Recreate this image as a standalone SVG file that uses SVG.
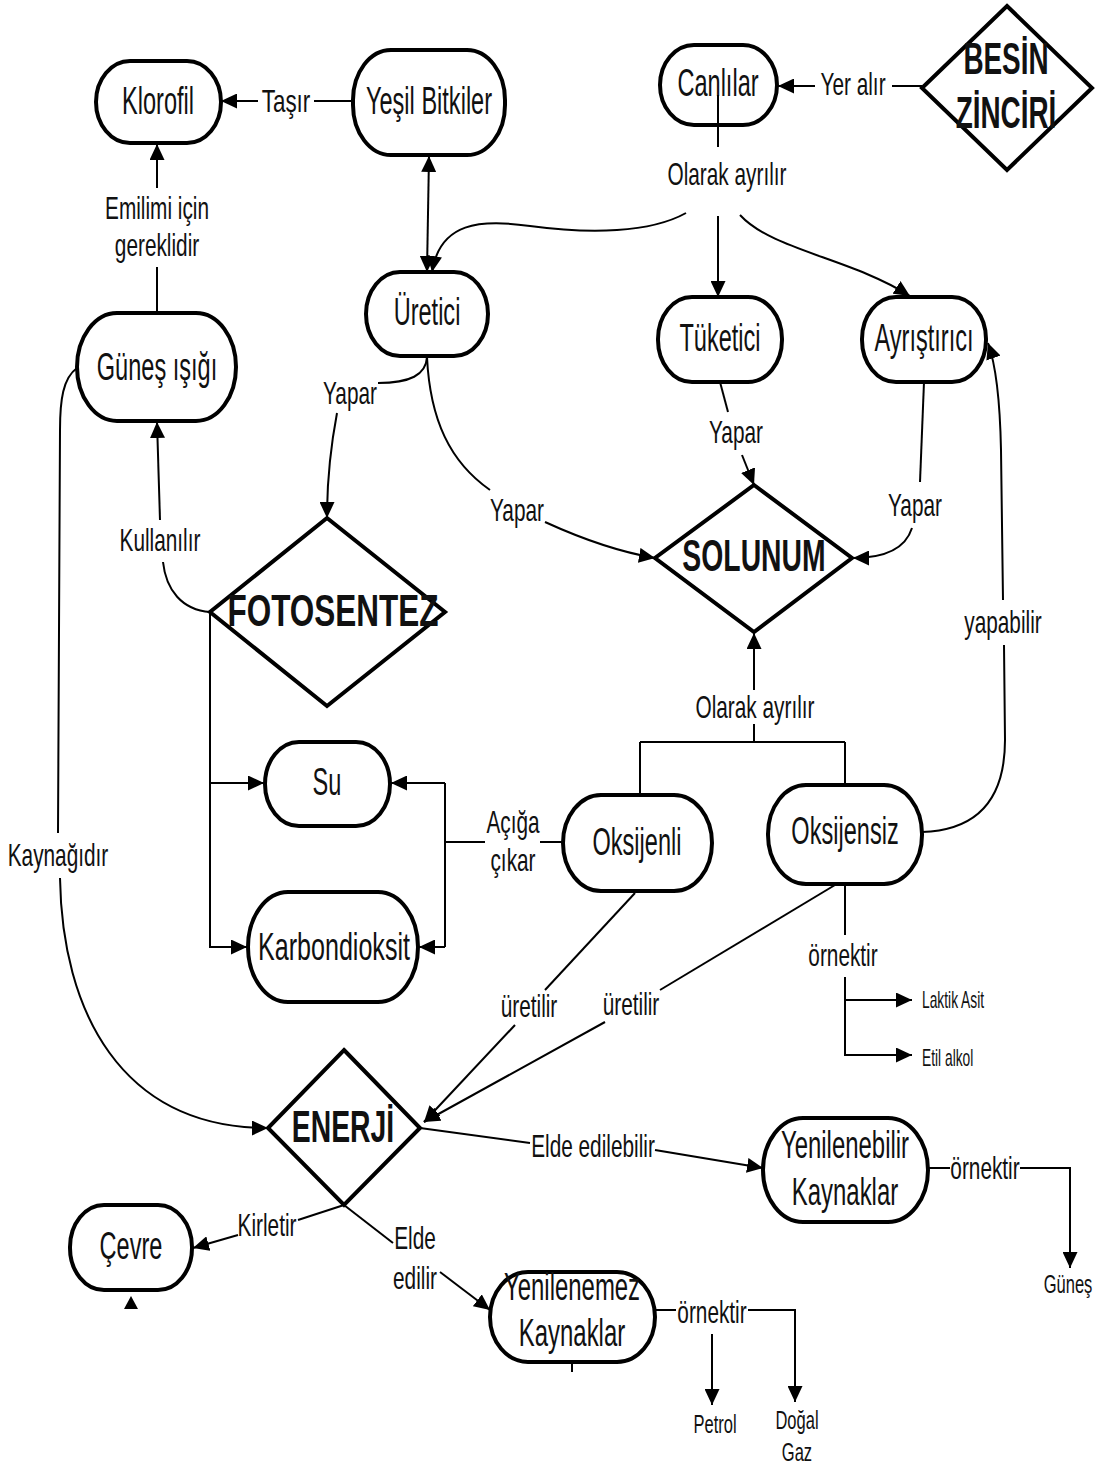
<svg xmlns="http://www.w3.org/2000/svg" width="1104" height="1470" viewBox="0 0 1104 1470">
<defs>
<style>
text{font-family:"Liberation Sans",Arial,sans-serif;fill:#111;text-anchor:middle;dominant-baseline:central}
.n{font-size:38px}
.l{font-size:32px}
.s{font-size:23px;text-anchor:start}
.m{font-size:25px}
.b{font-size:45px;font-weight:bold}
.node{fill:#fff;stroke:#000;stroke-width:4}
.c{fill:none;stroke:#000;stroke-width:2}
.a{marker-end:url(#ah)}
</style>
<marker id="ah" markerUnits="userSpaceOnUse" markerWidth="17" markerHeight="15" refX="16" refY="7.5" orient="auto"><path d="M0,0 L16,7.5 L0,15 z" fill="#000"/></marker>
<marker id="as" markerUnits="userSpaceOnUse" markerWidth="17" markerHeight="15" refX="16" refY="7.5" orient="auto-start-reverse"><path d="M0,0 L16,7.5 L0,15 z" fill="#000"/></marker>
</defs>
<rect width="1104" height="1470" fill="#fff"/>

<g id="klorofil"><rect class="node" x="96" y="61" width="125" height="82" rx="34" ry="41"/><text class="n" transform="translate(158,101) scale(0.62,1)">Klorofil</text></g>
<g id="yesil-bitkiler"><rect class="node" x="353" y="50" width="152" height="105" rx="38" ry="50"/><text class="n" transform="translate(429,101) scale(0.62,1)">Yeşil Bitkiler</text></g>
<g id="canlilar"><rect class="node" x="660" y="45" width="117" height="80" rx="34" ry="40"/><text class="n" transform="translate(718,83) scale(0.62,1)">Canlılar</text></g>
<g id="besin-zinciri"><path class="node" d="M1007,6 L1092,88 L1007,170 L922,88 Z"/><text class="b" transform="translate(1006,58) scale(0.62,1)">BESİN</text><text class="b" transform="translate(1006,112) scale(0.62,1)">ZİNCİRİ</text></g>
<g id="uretici"><rect class="node" x="366" y="272" width="122" height="84" rx="34" ry="42"/><text class="n" transform="translate(427,312) scale(0.62,1)">Üretici</text></g>
<g id="tuketici"><rect class="node" x="658" y="297" width="124" height="85" rx="34" ry="42"/><text class="n" transform="translate(720,338) scale(0.62,1)">Tüketici</text></g>
<g id="ayristirici"><rect class="node" x="862" y="297" width="124" height="85" rx="34" ry="42"/><text class="n" transform="translate(924,338) scale(0.62,1)">Ayrıştırıcı</text></g>
<g id="gunes-isigi"><rect class="node" x="77" y="313" width="159" height="108" rx="40" ry="54"/><text class="n" transform="translate(157,367) scale(0.62,1)">Güneş  ışığı</text></g>
<g id="fotosentez"><path class="node" d="M327,518 L445,612 L327,706 L210,612 Z"/><text class="b" transform="translate(333,610) scale(0.7,1)">FOTOSENTEZ</text></g>
<g id="solunum"><path class="node" d="M754,485 L852,558 L754,632 L655,558 Z"/><text class="b" transform="translate(754,555) scale(0.63,1)">SOLUNUM</text></g>
<g id="su"><rect class="node" x="265" y="742" width="125" height="84" rx="34" ry="42"/><text class="n" transform="translate(327,782) scale(0.62,1)">Su</text></g>
<g id="karbondioksit"><rect class="node" x="248" y="892" width="170" height="110" rx="40" ry="55"/><text class="n" transform="translate(334,947) scale(0.66,1)">Karbondioksit</text></g>
<g id="oksijenli"><rect class="node" x="563" y="795" width="149" height="96" rx="38" ry="48"/><text class="n" transform="translate(637,842) scale(0.62,1)">Oksijenli</text></g>
<g id="oksijensiz"><rect class="node" x="768" y="785" width="154" height="99" rx="38" ry="49"/><text class="n" transform="translate(845,831) scale(0.62,1)">Oksijensiz</text></g>
<g id="enerji"><path class="node" d="M344,1050 L420,1128 L344,1205 L268,1128 Z"/><text class="b" transform="translate(343,1126) scale(0.63,1)">ENERJİ</text></g>
<g id="cevre"><rect class="node" x="70" y="1205" width="122" height="85" rx="34" ry="42"/><text class="n" transform="translate(131,1246) scale(0.62,1)">Çevre</text></g>
<g id="yenilenebilir"><rect class="node" x="763" y="1118" width="165" height="104" rx="40" ry="52"/><text class="n" transform="translate(845,1145) scale(0.63,1)">Yenilenebilir</text><text class="n" transform="translate(845,1192) scale(0.63,1)">Kaynaklar</text></g>
<g id="yenilenemez"><rect class="node" x="490" y="1272" width="165" height="90" rx="38" ry="45"/><text class="n" transform="translate(572,1287) scale(0.63,1)">Yenilenemez</text><text class="n" transform="translate(572,1333) scale(0.63,1)">Kaynaklar</text></g>
<g id="leaves">
<text class="s" transform="translate(922,1000) scale(0.6,1)">Laktik Asit</text>
<text class="s" transform="translate(922,1058) scale(0.6,1)">Etil alkol</text>
<text class="m" transform="translate(1068,1284) scale(0.66,1)">Güneş</text>
<text class="m" transform="translate(715,1424) scale(0.66,1)">Petrol</text>
<text class="m" transform="translate(797,1420) scale(0.66,1)">Doğal</text>
<text class="m" transform="translate(797,1452) scale(0.66,1)">Gaz</text>
</g>

<g id="connectors">
<path class="c" d="M353,101 L314,101"/><path class="c a" d="M258,101 L221,101"/>
<path class="c" d="M922,86 L892,86"/><path class="c a" d="M815,86 L778,86"/>
<path class="c" d="M718,95 L718,147"/>
<path class="c a" d="M686,213 C 650,233 590,234 530,226 C 480,219 440,222 432,272"/>
<path class="c a" d="M718,216 L718,297"/>
<path class="c a" d="M740,215 C 772,250 850,258 910,296"/>
<path class="c a" marker-start="url(#as)" d="M429,156 L427,272"/>
<path class="c a" d="M157,188 L157,144"/><path class="c" d="M157,267 L157,313"/>
<path class="c" d="M210,612 C 182,610 166,590 163,562"/><path class="c a" d="M160,520 L157,422"/>
<path class="c" d="M77,368 C 63,378 60,400 60,430 L58,833"/><path class="c a" d="M60,878 C 62,1010 120,1128 268,1128"/>
<path class="c" d="M427,357 C 426,375 410,383 378,383"/><path class="c a" d="M337,413 C 330,450 327,480 327,518"/>
<path class="c" d="M427,357 C 430,420 450,462 490,490"/><path class="c a" d="M545,522 C 580,538 620,552 655,558"/>
<path class="c" d="M720,382 L728,412"/><path class="c a" d="M742,455 L754,485"/>
<path class="c" d="M924,382 L920,482"/><path class="c a" d="M912,528 C 905,550 882,558 853,558"/>
<path class="c" d="M922,832 C 985,830 1005,790 1005,740 L1004,645"/><path class="c a" d="M1003,600 L1001,450 C 1000,400 996,365 988,343"/>
<path class="c a" d="M754,690 L754,633"/>
<path class="c" d="M754,724 L754,742 M640,742 L845,742 M640,742 L640,795 M845,742 L845,785"/>
<path class="c" d="M563,842 L540,842 M485,842 L445,842 M445,783 L445,947"/>
<path class="c a" d="M445,783 L391,783"/><path class="c a" d="M445,947 L419,947"/>
<path class="c a" d="M210,612 L210,947 L247,947"/><path class="c a" d="M210,783 L264,783"/>
<path class="c" d="M635,893 L545,990"/><path class="c a" d="M515,1025 L424,1122"/>
<path class="c" d="M835,885 L660,990"/><path class="c a" d="M605,1022 L424,1122"/>
<path class="c" d="M845,885 L845,935"/><path class="c a" d="M845,977 L845,1055 L912,1055"/><path class="c a" d="M845,1000 L912,1000"/>
<path class="c" d="M420,1128 L530,1143"/><path class="c a" d="M655,1150 L763,1168"/>
<path class="c" d="M344,1205 L298,1220"/><path class="c a" d="M238,1235 L193,1248"/>
<path d="M131,1296 L124,1309 L138,1309 Z" fill="#000"/>
<path class="c" d="M344,1205 L393,1243"/><path class="c a" d="M440,1272 L490,1310"/>
<path class="c" d="M656,1310 L676,1310"/><path class="c a" d="M748,1310 L795,1310 L795,1402"/><path class="c a" d="M712,1334 L712,1405"/>
<path class="c" d="M572,1362 L572,1372"/>
<path class="c" d="M928,1168 L950,1168"/><path class="c a" d="M1020,1168 L1070,1168 L1070,1268"/>
<g id="labels">
<text class="l" transform="translate(286,101) scale(0.7,1)">Taşır</text>
<text class="l" transform="translate(853,84) scale(0.65,1)">Yer alır</text>
<text class="l" transform="translate(727,174) scale(0.65,1)">Olarak ayrılır</text>
<text class="l" transform="translate(157,208) scale(0.65,1)">Emilimi için</text>
<text class="l" transform="translate(157,245) scale(0.65,1)">gereklidir</text>
<text class="l" transform="translate(160,540) scale(0.65,1)">Kullanılır</text>
<text class="l" transform="translate(58,855) scale(0.65,1)">Kaynağıdır</text>
<text class="l" transform="translate(350,393) scale(0.65,1)">Yapar</text>
<text class="l" transform="translate(517,510) scale(0.65,1)">Yapar</text>
<text class="l" transform="translate(736,432) scale(0.65,1)">Yapar</text>
<text class="l" transform="translate(915,505) scale(0.65,1)">Yapar</text>
<text class="l" transform="translate(1003,622) scale(0.65,1)">yapabilir</text>
<text class="l" transform="translate(755,707) scale(0.65,1)">Olarak ayrılır</text>
<text class="l" transform="translate(513,822) scale(0.65,1)">Açığa</text>
<text class="l" transform="translate(513,860) scale(0.65,1)">çıkar</text>
<text class="l" transform="translate(529,1006) scale(0.65,1)">üretilir</text>
<text class="l" transform="translate(631,1004) scale(0.65,1)">üretilir</text>
<text class="l" transform="translate(843,955) scale(0.65,1)">örnektir</text>
<text class="l" transform="translate(593,1146) scale(0.65,1)">Elde edilebilir</text>
<text class="l" transform="translate(267,1225) scale(0.65,1)">Kirletir</text>
<text class="l" transform="translate(415,1238) scale(0.65,1)">Elde</text>
<text class="l" transform="translate(415,1278) scale(0.65,1)">edilir</text>
<text class="l" transform="translate(712,1312) scale(0.65,1)">örnektir</text>
<text class="l" transform="translate(985,1168) scale(0.65,1)">örnektir</text>
</g>
</g>
</svg>
